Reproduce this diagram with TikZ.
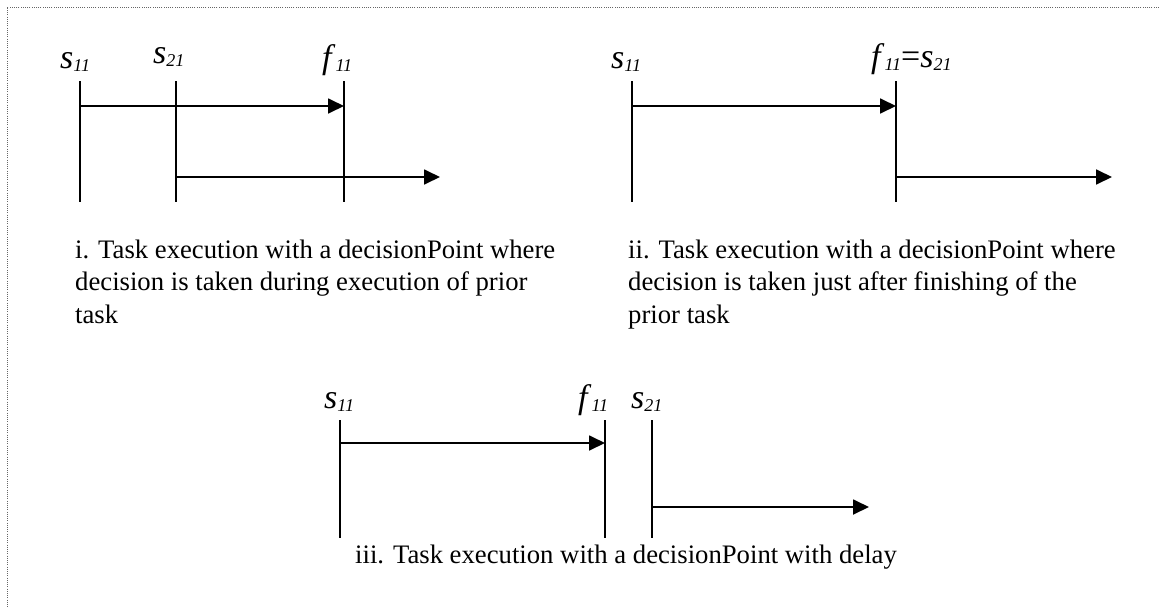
\documentclass[tikz,border=0pt]{standalone}
\usepackage{fontspec}
\setmainfont{Liberation Serif}
\usetikzlibrary{arrows.meta}

\newcommand{\tpoint}[2]{\textit{#1}\raisebox{-3.5pt}{\fontsize{18}{18}\selectfont\textit{#2}}}

\begin{document}
\begin{tikzpicture}[
  x=1pt, y=-1pt,
  tlabel/.style={anchor=base west, inner sep=0pt, font=\fontsize{34}{34}\selectfont},
  caption/.style={anchor=base west, inner sep=0pt, align=left, font=\fontsize{26.7}{32.5}\selectfont},
  tick/.style={line width=1.5pt},
  arrow/.style={-{Triangle[length=16pt,width=15pt]}, line width=1.8pt},
  frame/.style={black!60, line width=1pt, dash pattern=on 1pt off 1.2pt}
]
\useasboundingbox (0,0) rectangle (1159,608);
\draw[frame] (1159,7) -- (7,7) -- (7,608);

% i. decision during the prior task
\node[tlabel] (i-s11) at (60,68) {\tpoint{s}{11}};
\node[tlabel] (i-s21) at (153,63) {\tpoint{s}{21}};
\node[tlabel] (i-f11) at (322,68) {\tpoint{f}{11}};
\coordinate (i-s11-top) at (80,81);
\coordinate (i-s11-bot) at (80,202);
\coordinate (i-s21-top) at (176,81);
\coordinate (i-s21-bot) at (176,202);
\coordinate (i-f11-top) at (344,81);
\coordinate (i-f11-bot) at (344,202);
\coordinate (i-go1) at (80,106);
\coordinate (i-end1) at (344,106);
\coordinate (i-go2) at (176,177);
\coordinate (i-end2) at (440,177);
\draw[tick] (i-s11-top) -- (i-s11-bot);
\draw[tick] (i-s21-top) -- (i-s21-bot);
\draw[tick] (i-f11-top) -- (i-f11-bot);
\draw[arrow] (i-go1) -- (i-end1);
\draw[arrow] (i-go2) -- (i-end2);
% base of a three-line node is its last line
\node[caption] (i-text) at (75,323) {i. Task execution with a decisionPoint where\\decision is taken during execution of prior\\task};

% ii. decision just after the prior task
\node[tlabel] (ii-s11) at (611,68) {\tpoint{s}{11}};
\node[tlabel] (ii-f11) at (871,67) {\tpoint{f}{11}=\tpoint{s}{21}};
\coordinate (ii-s11-top) at (632,81);
\coordinate (ii-s11-bot) at (632,202);
\coordinate (ii-f11-top) at (896,81);
\coordinate (ii-f11-bot) at (896,202);
\coordinate (ii-go1) at (632,106);
\coordinate (ii-end1) at (896,106);
\coordinate (ii-go2) at (896,177);
\coordinate (ii-end2) at (1112,177);
\draw[tick] (ii-s11-top) -- (ii-s11-bot);
\draw[tick] (ii-f11-top) -- (ii-f11-bot);
\draw[arrow] (ii-go1) -- (ii-end1);
\draw[arrow] (ii-go2) -- (ii-end2);
\node[caption] (ii-text) at (628,323) {ii. Task execution with a decisionPoint where\\decision is taken just after finishing of the\\prior task};

% iii. decision with delay
\node[tlabel] (iii-s11) at (324,408) {\tpoint{s}{11}};
\node[tlabel] (iii-f11) at (578,408) {\tpoint{f}{11}};
\node[tlabel] (iii-s21) at (631,408) {\tpoint{s}{21}};
\coordinate (iii-s11-top) at (340,420);
\coordinate (iii-s11-bot) at (340,538);
\coordinate (iii-f11-top) at (605,420);
\coordinate (iii-f11-bot) at (605,538);
\coordinate (iii-s21-top) at (652,420);
\coordinate (iii-s21-bot) at (652,538);
\coordinate (iii-go1) at (340,443);
\coordinate (iii-end1) at (605,443);
\coordinate (iii-go2) at (652,507);
\coordinate (iii-end2) at (869,507);
\draw[tick] (iii-s11-top) -- (iii-s11-bot);
\draw[tick] (iii-f11-top) -- (iii-f11-bot);
\draw[tick] (iii-s21-top) -- (iii-s21-bot);
\draw[arrow] (iii-go1) -- (iii-end1);
\draw[arrow] (iii-go2) -- (iii-end2);
\node[caption] (iii-text) at (355,563) {iii. Task execution with a decisionPoint with delay};
\end{tikzpicture}
\end{document}
